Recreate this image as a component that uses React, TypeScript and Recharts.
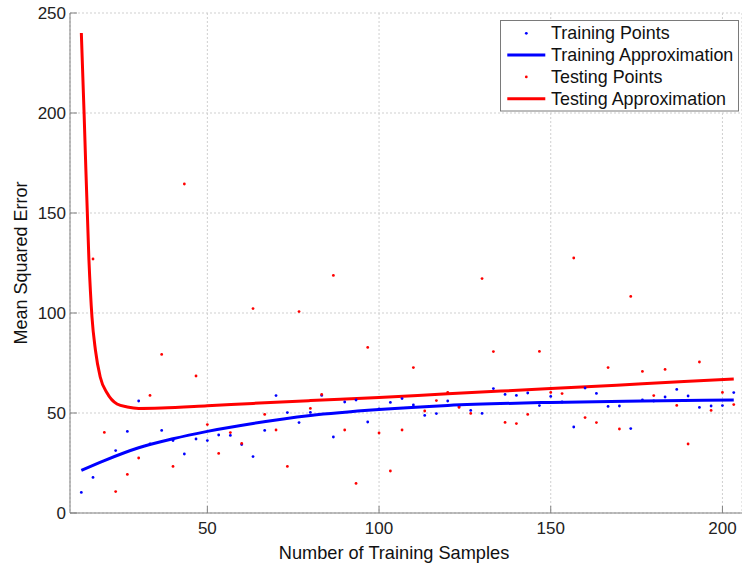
import React from 'react'
import {
  ComposedChart,
  Line,
  Scatter,
  XAxis,
  YAxis,
  CartesianGrid,
  Legend
} from 'recharts'

// sample sizes shared by both point sets
const sampleSizes = [
  13.3, 16.7, 20, 23.3, 26.7, 30, 33.3, 36.7, 40, 43.3, 46.7, 50, 53.3, 56.7, 60,
  63.3, 66.7, 70, 73.3, 76.7, 80, 83.3, 86.7, 90, 93.3, 96.7, 100, 103.3, 106.7, 110,
  113.3, 116.7, 120, 123.3, 126.7, 130, 133.3, 136.7, 140, 143.3, 146.7, 150, 153.3,
  156.7, 160, 163.3, 166.7, 170, 173.3, 176.7, 180, 183.3, 186.7, 190, 193.3, 196.7,
  200, 203.3
]

const trainingErrors = [
  10.3, 17.8, null, 31.2, 40.8, 56, 34.5, 41.3, 36.2, 29.5, 37, 36.2, 39, 38.8, 34.2,
  28.2, 41.3, 58.7, 50.2, 45.2, 50.3, 58.8, 38, 55.5, 56.5, 45.5, 52, 55.3, 57.2, 54,
  48.8, 49.7, 56, 53.2, 51.3, 49.8, 62.2, 59.3, 58.8, 60, 53.7, 58.3, 55.5,
  43, 62.5, 59.8, 53.3, 53.5, 42.2, 56.5, 56, 58, 61.8, 58.5, 52.8, 53.5,
  53.7, 60.2
]

const testingErrors = [
  null, 127, 40.3, 10.7, 19.3, 27.5, 58.8, 79.3, 23.3, 164.5, 68.5, 44.2, 29.8, 40.2, 34.8,
  102.2, 49.3, 41.5, 23.3, 100.7, 52.3, 59.3, 118.8, 41.5, 14.8, 82.8, 40, 21, 41.5, 72.7,
  51, 56.2, 60.3, 52.8, 49.8, 117.2, 80.7, 45.3, 44.7, 49.3, 80.8, 60.3, 59.7,
  127.5, 47.7, 45.2, 72.7, 42, 108.3, 70.8, 58.7, 71.8, 53.8, 34.5, 75.5, 51.3,
  60.3, 54.2
]

const trainFitX = [13.3, 20, 30, 40, 50, 63.3, 80, 100, 120, 150, 176.7, 203.3]
const trainFitY = [21.3, 26.2, 32.6, 37.1, 40.8, 44.8, 48.8, 51.8, 53.8, 55.3, 56, 56.5]

const testFitX = [13.3, 14.1, 15.5, 16.4, 17.4, 18.8, 20.8, 23.7, 26.7, 30, 36.7, 50, 63.3, 80, 100, 120, 150, 176.7, 203.3]
const testFitY = [240, 200, 127, 98, 81.5, 68, 60, 54.5, 53, 52.3, 52.5, 53.6, 54.8, 56.2, 57.8, 59.6, 62.2, 64.6, 67]

const xTicks = [50, 100, 150, 200]
const yTicks = [0, 50, 100, 150, 200, 250]

const legendItems = [
  { name: 'Training Points', color: '#0000ff', kind: 'dot' },
  { name: 'Training Approximation', color: '#0000ff', kind: 'line' },
  { name: 'Testing Points', color: '#ff0000', kind: 'dot' },
  { name: 'Testing Approximation', color: '#ff0000', kind: 'line' }
]

const FONT = '"Liberation Sans", Arial, sans-serif'
const AXIS = '#808080'

const toPoints = (xs: number[], ys: (number | null)[]) =>
  xs.map((x, i) => ({ x, y: ys[i] })).filter(p => p.y !== null)

const trainPoints = toPoints(sampleSizes, trainingErrors)
const testPoints = toPoints(sampleSizes, testingErrors)
const trainFit = toPoints(trainFitX, trainFitY)
const testFit = toPoints(testFitX, testFitY)

function XTick({ x, y, payload }: any) {
  return (
    <g>
      <line x1={x} x2={x} y1={y} y2={y - 7} stroke={AXIS} />
      <text x={x} y={y + 20.5} textAnchor="middle" fontSize={17} fontFamily={FONT} fill="#222">
        {payload.value}
      </text>
    </g>
  )
}

function YTick({ x, y, payload }: any) {
  return (
    <g>
      <line x1={x} x2={x + 7} y1={y} y2={y} stroke={AXIS} />
      <text x={x - 4} y={y + 6} textAnchor="end" fontSize={17} fontFamily={FONT} fill="#222">
        {payload.value}
      </text>
    </g>
  )
}

function dotShape(color: string) {
  return (p: any) => <circle cx={p.cx} cy={p.cy} r={1.4} fill={color} />
}

function LegendBox() {
  return (
    <svg width={240} height={92}>
      <rect x={0.5} y={0.5} width={238} height={90.5} fill="#fff" stroke="#7a7a7a" />
      {legendItems.map((item, i) => {
        const cy = 13.3 + i * 21.8
        return (
          <g key={item.name}>
            {item.kind === 'dot' ? (
              <circle cx={26.3} cy={cy} r={1.4} fill={item.color} />
            ) : (
              <line x1={7.3} x2={45.3} y1={cy} y2={cy} stroke={item.color} strokeWidth={3} />
            )}
            <text x={51} y={cy + 6} fontSize={17.9} fontFamily={FONT} fill="#111">
              {item.name}
            </text>
          </g>
        )
      })}
    </svg>
  )
}

export default function App() {
  return (
    <div style={{ position: 'absolute', left: 0, top: 0, width: 742, height: 568, background: '#fff' }}>
      <ComposedChart width={742} height={568} margin={{ top: 13, right: 0, bottom: 0, left: 0 }}>
        <CartesianGrid stroke="#cfcfcf" strokeDasharray="2 2" />
        <XAxis
          type="number"
          dataKey="x"
          domain={[10, 205.7]}
          ticks={xTicks}
          allowDataOverflow
          height={55}
          tickSize={0}
          tickMargin={0}
          tickLine={false}
          axisLine={{ stroke: AXIS }}
          tick={XTick}
          label={() => (
            <text x={394} y={559} textAnchor="middle" fontSize={18.2} fontFamily={FONT} fill="#111">
              Number of Training Samples
            </text>
          )}
        />
        <YAxis
          type="number"
          dataKey="y"
          domain={[0, 250]}
          ticks={yTicks}
          allowDataOverflow
          width={70}
          tickSize={0}
          tickMargin={0}
          tickLine={false}
          axisLine={{ stroke: AXIS }}
          tick={YTick}
          label={() => (
            <text x={27} y={263} transform="rotate(-90 27 263)" textAnchor="middle" fontSize={18} fontFamily={FONT} fill="#111">
              Mean Squared Error
            </text>
          )}
        />
        <Scatter name="Training Points" data={trainPoints} dataKey="y" fill="#0000ff" shape={dotShape('#0000ff')} isAnimationActive={false} />
        <Line name="Training Approximation" data={trainFit} dataKey="y" type="monotone" stroke="#0000ff" strokeWidth={3} dot={false} isAnimationActive={false} />
        <Scatter name="Testing Points" data={testPoints} dataKey="y" fill="#ff0000" shape={dotShape('#ff0000')} isAnimationActive={false} />
        <Line name="Testing Approximation" data={testFit} dataKey="y" type="monotone" stroke="#ff0000" strokeWidth={3} dot={false} isAnimationActive={false} />
        <Legend
          layout="vertical"
          align="center"
          verticalAlign="middle"
          content={() => <LegendBox />}
          wrapperStyle={{ left: 500, top: 20, width: 240, height: 92, margin: 0 }}
        />
      </ComposedChart>
    </div>
  )
}
